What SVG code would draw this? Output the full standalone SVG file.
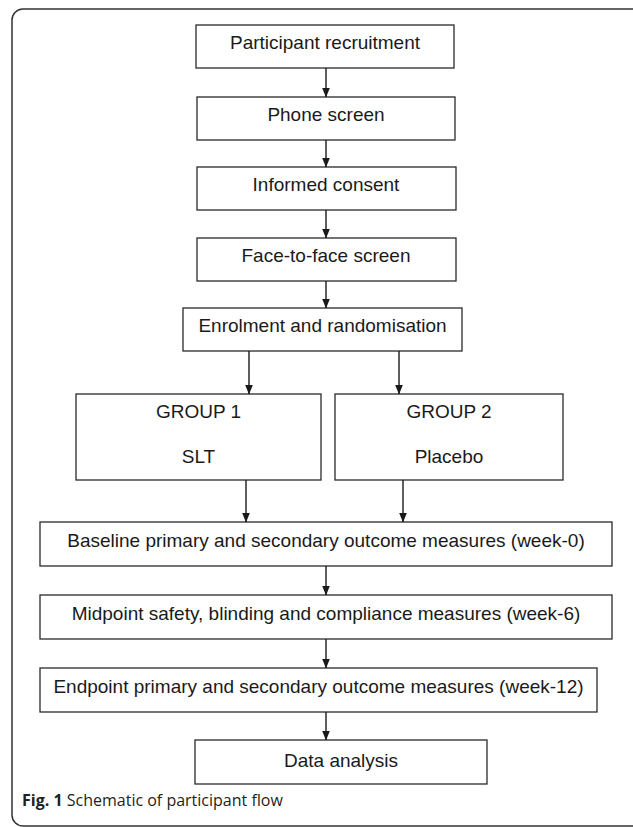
<svg xmlns="http://www.w3.org/2000/svg" width="633" height="827" viewBox="0 0 633 827">
<defs>
<marker id="ah" markerUnits="userSpaceOnUse" markerWidth="10" markerHeight="11" refX="9.5" refY="4" orient="auto">
<path d="M0,0 L10,4 L0,8 Z" fill="#1a1a1a"/>
</marker>
<style>
.box{fill:#fff;stroke:#2a2a2a;stroke-width:1.3}
.t{font-family:"Liberation Sans",Arial,sans-serif;font-size:19px;fill:#1a1a1a;text-anchor:middle}
.c{stroke:#1a1a1a;stroke-width:1.4;fill:none;marker-end:url(#ah)}
.cap{font-family:"Open Sans","Noto Sans",sans-serif;font-size:16px;fill:#231f20}
</style>
</defs>
<rect x="0" y="0" width="633" height="827" fill="#fff"/>
<rect x="12" y="9" width="650" height="817" rx="11" fill="none" stroke="#333" stroke-width="1.5"/>
<g id="n1"><rect class="box" x="196" y="25" width="258" height="43"/><text class="t" x="325" y="49">Participant recruitment</text></g>
<g id="n2"><rect class="box" x="197" y="97" width="258" height="43"/><text class="t" x="326" y="121">Phone screen</text></g>
<g id="n3"><rect class="box" x="197" y="167" width="259" height="43"/><text class="t" x="326" y="191">Informed consent</text></g>
<g id="n4"><rect class="box" x="197" y="238" width="259" height="43"/><text class="t" x="326" y="262">Face-to-face screen</text></g>
<g id="n5"><rect class="box" x="183" y="308" width="279" height="43"/><text class="t" x="322.5" y="332">Enrolment and randomisation</text></g>
<g id="n6"><rect class="box" x="76" y="394" width="245" height="86"/><text class="t" x="198.5" y="418">GROUP 1</text><text class="t" x="198.5" y="463">SLT</text></g>
<g id="n7"><rect class="box" x="335" y="394" width="228" height="86"/><text class="t" x="449" y="418">GROUP 2</text><text class="t" x="449" y="463">Placebo</text></g>
<g id="n8"><rect class="box" x="40" y="522" width="572" height="44"/><text class="t" x="326" y="547">Baseline primary and secondary outcome measures (week-0)</text></g>
<g id="n9"><rect class="box" x="40" y="595" width="572" height="44"/><text class="t" x="326" y="620">Midpoint safety, blinding and compliance measures (week-6)</text></g>
<g id="n10"><rect class="box" x="40" y="668" width="557" height="44"/><text class="t" x="318.5" y="693">Endpoint primary and secondary outcome measures (week-12)</text></g>
<g id="n11"><rect class="box" x="195" y="740" width="292" height="44"/><text class="t" x="341" y="767">Data analysis</text></g>
<g id="connectors">
<line class="c" x1="326" y1="68" x2="326" y2="97"/>
<line class="c" x1="326" y1="140" x2="326" y2="167"/>
<line class="c" x1="326" y1="210" x2="326" y2="238"/>
<line class="c" x1="326" y1="281" x2="326" y2="308"/>
<line class="c" x1="249" y1="351" x2="249" y2="394"/>
<line class="c" x1="399" y1="351" x2="399" y2="394"/>
<line class="c" x1="246" y1="480" x2="246" y2="522"/>
<line class="c" x1="403" y1="480" x2="403" y2="522"/>
<line class="c" x1="326" y1="566" x2="326" y2="595"/>
<line class="c" x1="326" y1="639" x2="326" y2="668"/>
<line class="c" x1="326" y1="712" x2="326" y2="740"/>
</g>
<text class="cap" x="22" y="806"><tspan font-weight="bold">Fig. 1</tspan> Schematic of participant flow</text>
</svg>
